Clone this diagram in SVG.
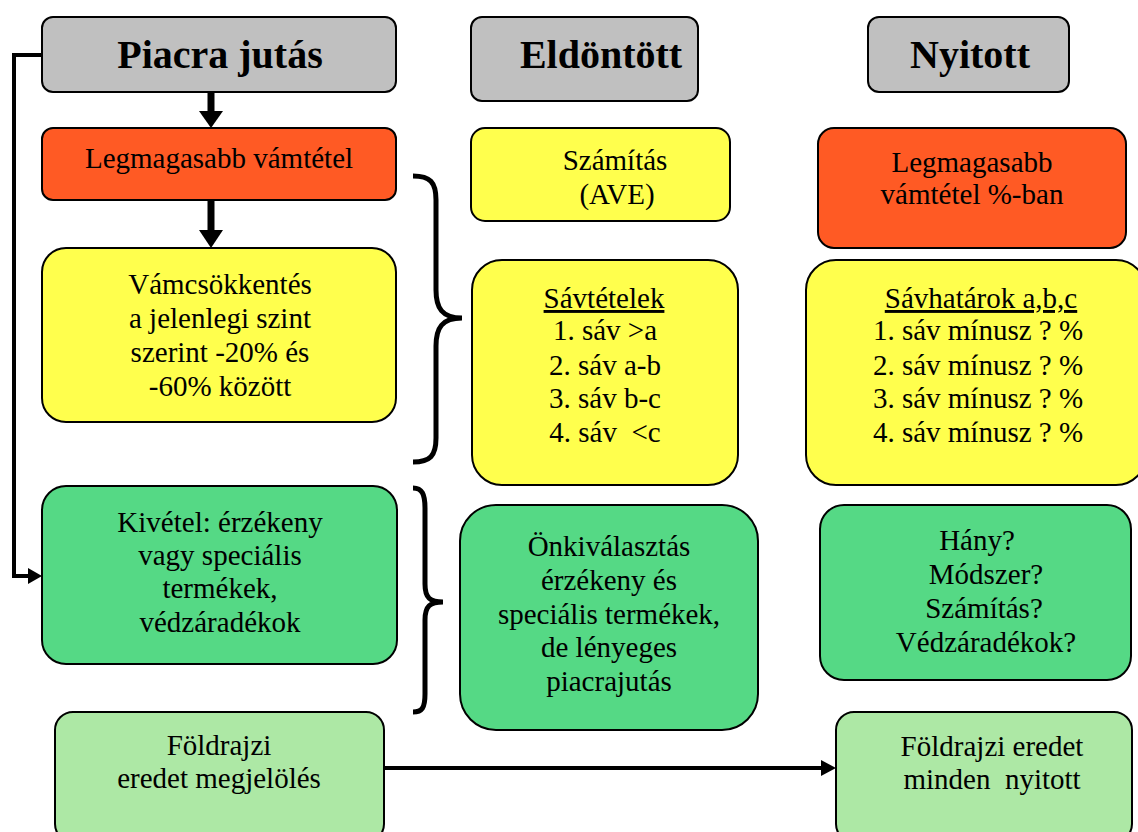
<svg xmlns="http://www.w3.org/2000/svg" width="1138" height="832" viewBox="0 0 1138 832">
<defs>
<style>
.box{stroke:#000;stroke-width:2}
.gray{fill:#C0C0C0}
.orange{fill:#FF5A24}
.yellow{fill:#FFFF4D}
.green{fill:#55D985}
.lgreen{fill:#ADE8A5}
text{font-family:"Liberation Serif","Times New Roman",serif;font-size:29px;fill:#000;text-anchor:middle}
.head{font-size:40px;font-weight:bold}
.conn{fill:none;stroke:#000;stroke-width:4}
.thick{fill:none;stroke:#000;stroke-width:7}
.brace{fill:none;stroke:#000;stroke-width:5;stroke-linecap:butt}
</style>
</defs>

<g id="connectors">
<path class="conn" d="M42,55 H14 V576 H30"/>
<path d="M28,568 L42,576 L28,584 z"/>
<path class="thick" d="M211,92 V112"/>
<path d="M199,111 L211,128 L223,111 z"/>
<path class="thick" d="M211,200 V231"/>
<path d="M199,230 L211,248 L223,230 z"/>
<path class="conn" d="M384,768 H822"/>
<path d="M821,760 L836,768 L821,776 z"/>
<path class="brace" d="M413,176 C430,176 436,182 436,200 V290 C436,308 442,318 462,318 C442,318 436,328 436,346 V438 C436,456 430,462 413,462"/>
<path class="brace" d="M413,488 C422,488 425,494 425,508 V584 C425,598 430,602 443,602 C430,602 425,606 425,620 V694 C425,708 422,712 413,712"/>
</g>

<g id="n-piacra"><rect class="box gray" x="42" y="17" width="354" height="75" rx="11"/><text class="head" x="220" y="68">Piacra jutás</text></g>
<g id="n-eldontott"><rect class="box gray" x="471" y="17" width="227" height="84" rx="11"/><text class="head" x="601" y="68">Eldöntött</text></g>
<g id="n-nyitott"><rect class="box gray" x="868" y="17" width="201" height="75" rx="11"/><text class="head" x="970" y="68">Nyitott</text></g>

<g id="n-legmag"><rect class="box orange" x="42" y="128" width="354" height="72" rx="11"/><text x="219" y="168">Legmagasabb vámtétel</text></g>
<g id="n-vamcs"><rect class="box yellow" x="42" y="248" width="354" height="174" rx="24"/>
<text x="220" y="294">Vámcsökkentés</text><text x="220" y="328">a jelenlegi szint</text><text x="220" y="362">szerint -20% és</text><text x="220" y="396">-60% között</text></g>
<g id="n-kivetel"><rect class="box green" x="42" y="486" width="355" height="178" rx="24"/>
<text x="220" y="532">Kivétel: érzékeny</text><text x="220" y="565">vagy speciális</text><text x="220" y="598">termékek,</text><text x="220" y="632">védzáradékok</text></g>
<g id="n-foldrajzi1"><rect class="box lgreen" x="55" y="712" width="329" height="130" rx="18"/>
<text x="219" y="755">Földrajzi</text><text x="219" y="788">eredet megjelölés</text></g>

<g id="n-szamitas"><rect class="box yellow" x="471" y="128" width="259" height="93" rx="14"/>
<text x="615" y="170">Számítás</text><text x="617" y="204">(AVE)</text></g>
<g id="n-savtetelek"><rect class="box yellow" x="472" y="260" width="266" height="225" rx="30"/>
<text x="604" y="308" text-decoration="underline">Sávtételek</text><text x="605" y="340">1. sáv &gt;a</text><text x="605" y="375">2. sáv a-b</text><text x="605" y="408">3. sáv b-c</text><text x="605" y="442" xml:space="preserve">4. sáv  &lt;c</text></g>
<g id="n-onkival"><rect class="box green" x="460" y="505" width="298" height="225" rx="36"/>
<text x="609" y="556">Önkiválasztás</text><text x="609" y="590">érzékeny és</text><text x="609" y="624">speciális termékek,</text><text x="609" y="657">de lényeges</text><text x="609" y="691">piacrajutás</text></g>

<g id="n-legmag2"><rect class="box orange" x="818" y="128" width="308" height="120" rx="16"/>
<text x="972" y="172">Legmagasabb</text><text x="972" y="204">vámtétel %-ban</text></g>
<g id="n-savhatarok"><rect class="box yellow" x="806" y="260" width="340" height="225" rx="30"/>
<text x="981" y="308" text-decoration="underline">Sávhatárok a,b,c</text><text x="978" y="340">1. sáv mínusz ? %</text><text x="978" y="375">2. sáv mínusz ? %</text><text x="978" y="408">3. sáv mínusz ? %</text><text x="978" y="442">4. sáv mínusz ? %</text></g>
<g id="n-hany"><rect class="box green" x="820" y="505" width="311" height="175" rx="24"/>
<text x="977" y="550">Hány?</text><text x="986" y="584">Módszer?</text><text x="984" y="618">Számítás?</text><text x="986" y="652">Védzáradékok?</text></g>
<g id="n-foldrajzi2"><rect class="box lgreen" x="836" y="712" width="296" height="130" rx="18"/>
<text x="992" y="756">Földrajzi eredet</text><text x="992" y="789" xml:space="preserve">minden  nyitott</text></g>
</svg>
